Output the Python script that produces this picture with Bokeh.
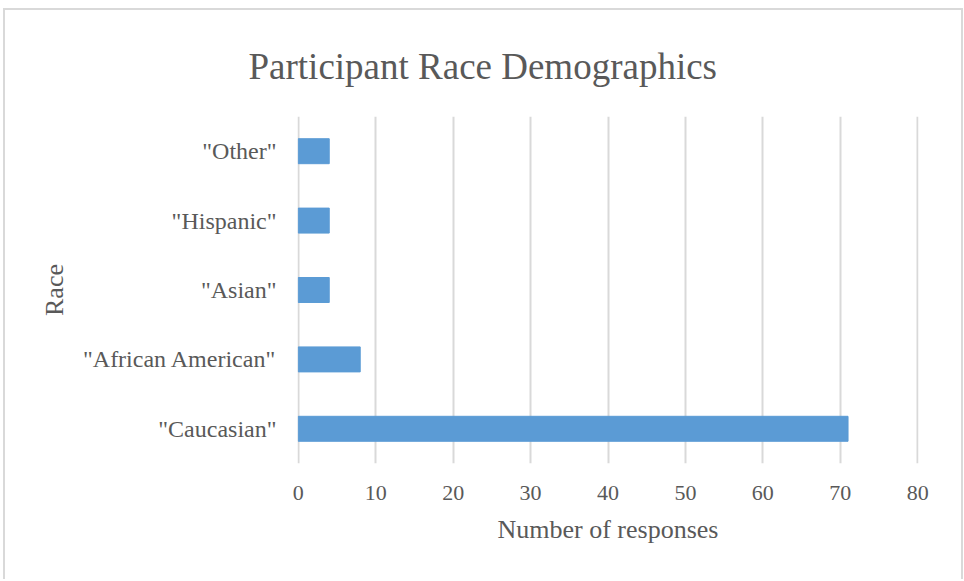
from bokeh.plotting import figure
from bokeh.models import FactorRange, Range1d, FixedTicker
from bokeh.embed import file_html
from bokeh.resources import INLINE

categories = ['"Caucasian"', '"African American"', '"Asian"', '"Hispanic"', '"Other"']
responses = [71, 8, 4, 4, 4]
x_ticks = [0, 10, 20, 30, 40, 50, 60, 70, 80]

FONT = "Liberation Serif"
TXT = "#595959"

p = figure(width=960, height=571, output_backend="svg", toolbar_location=None,
           y_range=FactorRange(*categories, range_padding=0), x_range=Range1d(-0.1, 80.1))
p.styles = {"border-left": "2px solid #D9D9D9", "border-top": "2px solid #D9D9D9",
            "border-right": "2px solid #D9D9D9", "margin-left": "3px", "margin-top": "8px"}
p.min_border_left = 292
p.min_border_right = 47
p.min_border_top = 106
p.min_border_bottom = 118
p.outline_line_color = None
p.background_fill_color = "white"
p.border_fill_color = "white"

p.title.text = "Participant Race Demographics"
p.title.text_font = FONT
p.title.text_font_size = "37px"
p.title.text_color = TXT
p.title.text_font_style = "normal"
p.title.align = "left"
p.title.offset = -49
p.title.standoff = 60

p.hbar(y=categories, right=responses, left=0, height=0.36, color="#5B9BD5")

p.xaxis.ticker = FixedTicker(ticks=x_ticks)
for ax in (p.xaxis[0], p.yaxis[0]):
    ax.axis_line_color = None
    ax.major_tick_line_color = None
    ax.minor_tick_line_color = None
    ax.major_label_text_font = FONT
    ax.major_label_text_color = TXT
    ax.axis_label_text_font = FONT
    ax.axis_label_text_color = TXT
    ax.axis_label_text_font_style = "normal"
    ax.axis_label_text_font_size = "26px"

p.xaxis.major_label_text_font_size = "22px"
p.xaxis.major_label_standoff = 16
p.xaxis.axis_label = "Number of responses"
p.xaxis.axis_label_standoff = 12

p.yaxis.major_label_text_font_size = "24px"
p.yaxis.major_label_standoff = 15
p.yaxis.axis_label = "Race"
p.yaxis.axis_label_standoff = 11

p.ygrid.grid_line_color = None
p.xgrid.grid_line_color = "#D9D9D9"
p.xgrid.grid_line_width = 2

open("out.html", "w").write(file_html(p, INLINE))
